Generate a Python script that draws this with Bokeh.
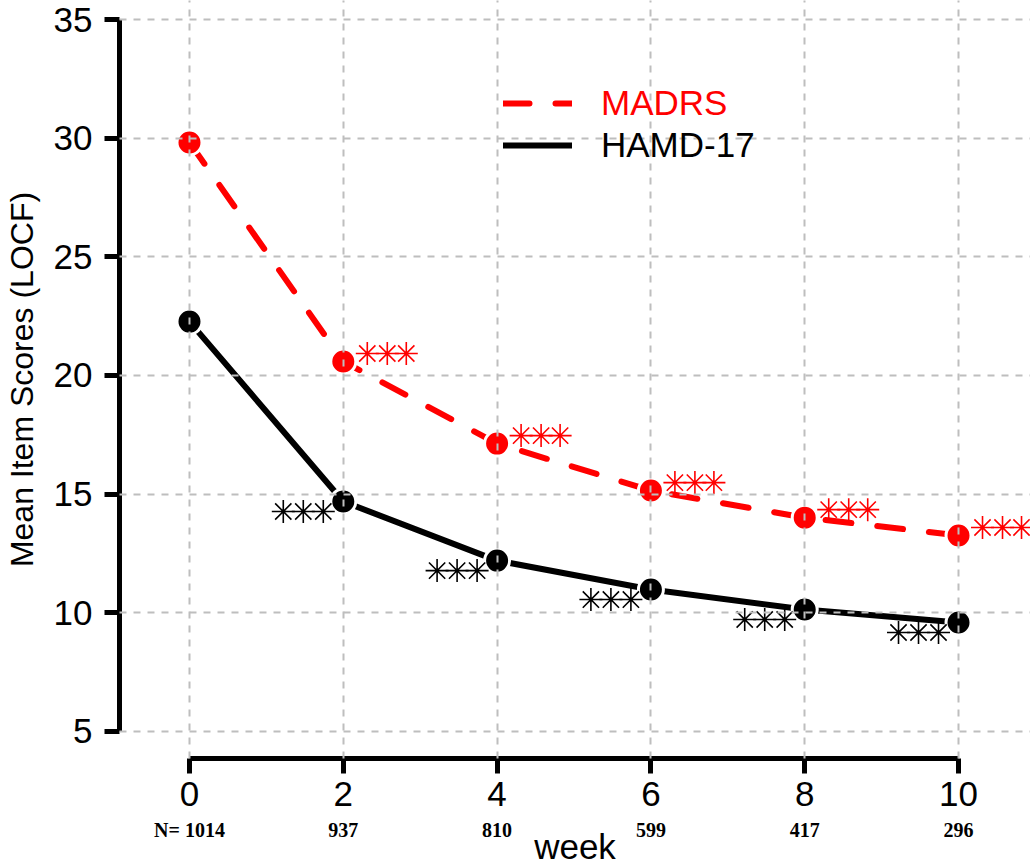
from bokeh.plotting import figure
from bokeh.models import Range1d, FixedTicker, Legend, LegendItem, LinearAxis
from bokeh.embed import file_html
from bokeh.resources import INLINE

# ---------------- data ----------------
weeks = [0, 2, 4, 6, 8, 10]
madrs = [29.82, 20.59, 17.13, 15.15, 14.01, 13.26]
hamd = [22.27, 14.69, 12.20, 10.98, 10.14, 9.59]
n_patients = [1014, 937, 810, 599, 417, 296]
sig_weeks = [2, 4, 6, 8, 10]          # weeks marked "***"
y_ticks = [5, 10, 15, 20, 25, 30, 35]
x_label = "week"
y_label = "Mean Item Scores (LOCF)"

# ---------------- style ----------------
RED = "#ff0000"
BLACK = "#000000"
GRID = "#bebebe"
SANS = "Liberation Sans"
SERIF = "Liberation Serif"

p = figure(width=1030, height=868, output_backend="svg", toolbar_location=None,
           x_range=Range1d(-0.91, 10.936), y_range=Range1d(3.862, 35.80),
           min_border_left=119, min_border_right=0, min_border_top=0,
           min_border_bottom=110)
p.outline_line_color = None
p.background_fill_color = "white"
p.border_fill_color = "white"

# grid drawn above the data, as in the reference
for g in (p.xgrid, p.ygrid):
    g.grid_line_color = GRID
    g.grid_line_width = 2
    g.grid_line_dash = "7 7"
    g.level = "overlay"

# main axes
for ax in (p.xaxis, p.yaxis):
    ax.axis_line_width = 5
    ax.major_tick_line_width = 5
    ax.major_tick_out = 15
    ax.major_tick_in = 0
    ax.minor_tick_line_color = None
    ax.major_label_text_font = SANS
    ax.major_label_text_font_size = "35px"
    ax.major_label_text_color = BLACK
p.xaxis.ticker = FixedTicker(ticks=weeks)
p.xaxis.bounds = (weeks[0], weeks[-1])
p.xaxis.major_label_standoff = 8
p.yaxis.ticker = FixedTicker(ticks=y_ticks)
p.yaxis.bounds = (y_ticks[0], y_ticks[-1])
p.yaxis.major_label_standoff = 12
p.yaxis.axis_label = y_label
p.yaxis.axis_label_standoff = 11
p.yaxis.axis_label_text_font = SANS
p.yaxis.axis_label_text_font_size = "32px"
p.yaxis.axis_label_text_font_style = "normal"
p.yaxis.axis_label_text_color = BLACK

# second axis below: number of patients per week + axis title
n_text = ["N= %d" % n_patients[0]] + [str(n) for n in n_patients[1:]]
n_axis = LinearAxis(ticker=FixedTicker(ticks=weeks),
                    major_label_overrides={w: t for w, t in zip(weeks, n_text)},
                    axis_line_color=None, major_tick_line_color=None,
                    minor_tick_line_color=None, major_tick_out=0, major_tick_in=0,
                    major_label_standoff=10,
                    major_label_text_font=SERIF, major_label_text_font_style="bold",
                    major_label_text_font_size="20px", major_label_text_color=BLACK,
                    axis_label=x_label, axis_label_standoff=-17,
                    axis_label_text_font=SANS, axis_label_text_font_size="35px",
                    axis_label_text_font_style="normal", axis_label_text_color=BLACK)
p.add_layout(n_axis, "below")

# lines
r_madrs = p.line(weeks, madrs, line_color=RED, line_width=6,
                 line_dash="26 26", line_cap="round")
r_hamd = p.line(weeks, hamd, line_color=BLACK, line_width=6, line_cap="round")

# points (white ring gives the small gap between line and point)
p.scatter(weeks, madrs, marker="circle", size=25, fill_color=RED,
          line_color="white", line_width=3)
p.scatter(weeks, hamd, marker="circle", size=25, fill_color=BLACK,
          line_color="white", line_width=3)

# significance stars "***"
px_x = 76.9   # pixels per week
px_y = 23.73  # pixels per score unit
madrs_dx = [24 / px_x, 44 / px_x, 63 / px_x]
hamd_dx = [-60 / px_x, -40 / px_x, -20 / px_x]
madrs_dy = 8 / px_y
hamd_dy = -10 / px_y
ms_x, ms_y, hs_x, hs_y = [], [], [], []
for w in sig_weeks:
    i = weeks.index(w)
    for d in madrs_dx:
        ms_x.append(w + d)
        ms_y.append(madrs[i] + madrs_dy)
    for d in hamd_dx:
        hs_x.append(w + d)
        hs_y.append(hamd[i] + hamd_dy)
p.scatter(ms_x, ms_y, marker="asterisk", size=23, line_color=RED, line_width=1.6)
p.scatter(hs_x, hs_y, marker="asterisk", size=23, line_color=BLACK, line_width=1.6)

# legends (two, so that each label has its own colour)
for name, rend, col, ly in (("MADRS", r_madrs, RED, 635), ("HAMD-17", r_hamd, BLACK, 593)):
    lg = Legend(items=[LegendItem(label=name, renderers=[rend])],
                location=(384, ly), orientation="vertical",
                border_line_color=None, background_fill_alpha=0,
                padding=0, margin=0, spacing=0,
                glyph_width=69, glyph_height=36, label_height=36,
                label_standoff=29, label_text_font=SANS,
                label_text_font_size="35px", label_text_color=col)
    p.add_layout(lg)

open("out.html", "w").write(file_html(p, INLINE))
